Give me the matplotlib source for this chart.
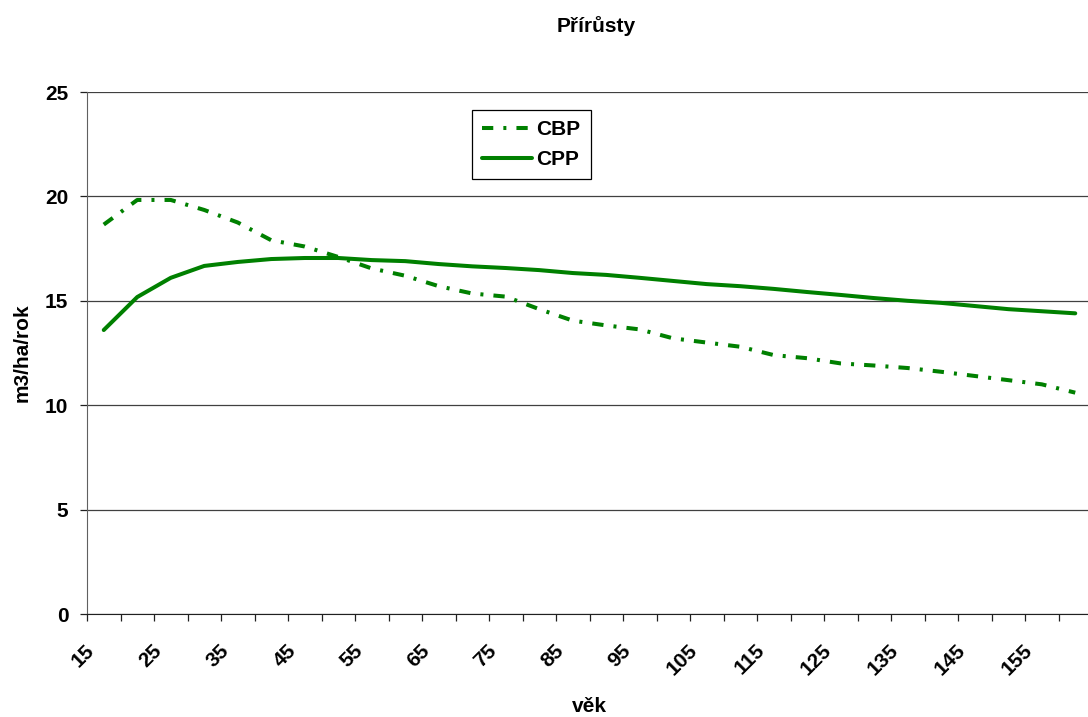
import matplotlib.pyplot as plt
import numpy as np
from matplotlib.transforms import ScaledTranslation

plt.rcParams['font.family'] = ['Liberation Sans', 'DejaVu Sans']
plt.rcParams['font.weight'] = 'bold'

# Přírůsty podle věku porostu
vek = list(range(15, 165, 5))
cbp = [18.65, 19.83, 19.83, 19.35, 18.75, 17.9, 17.6, 17.1, 16.55, 16.2,
       15.7, 15.35, 15.2, 14.6, 14.05, 13.82, 13.63, 13.2, 13.0, 12.8,
       12.4, 12.25, 12.0, 11.9, 11.78, 11.6, 11.4, 11.2, 11.0, 10.6]
cpp = [13.6, 15.18, 16.1, 16.67, 16.86, 17.0, 17.05, 17.05, 16.95, 16.9,
       16.76, 16.65, 16.57, 16.47, 16.33, 16.24, 16.1, 15.95, 15.8, 15.7,
       15.57, 15.42, 15.28, 15.13, 15.0, 14.9, 14.75, 14.6, 14.5, 14.4]

W, H = 1088, 717
fs = 15
fig = plt.figure(figsize=(W / 100, H / 100), dpi=100)
ax = fig.add_axes([87 / W, 1 - 614 / H, 1005 / W, 522 / H])

x = np.arange(len(vek))
zelena = '#008000'
ax.plot(x, cbp, color=zelena, lw=2.9, linestyle=(0, (2.8, 2.5, 0.75, 2.5)), label='CBP')
ax.plot(x, cpp, color=zelena, lw=2.9, solid_capstyle='round', label='CPP')

ax.set_xlim(-0.5, len(vek) - 0.5)
ax.set_ylim(0, 25)
ax.set_yticks(range(0, 26, 5))
ax.grid(axis='y', color='#404040', lw=0.9)
ax.set_axisbelow(True)

for s in ['top', 'right']:
    ax.spines[s].set_visible(False)
ax.spines['left'].set_color('#606060')
ax.spines['bottom'].set_color('#202020')

# tick marks na hranicích kategorií, popisky u každé druhé kategorie
ax.set_xticks(np.arange(-0.5, len(vek), 1.0))
ax.set_xticklabels([])
ax.set_xticks(x[::2], minor=True)
ax.set_xticklabels([str(v) for v in vek[::2]], minor=True, rotation=45,
                   ha='right', va='center', rotation_mode='anchor', fontsize=fs)
ax.tick_params(axis='x', which='major', direction='out', length=5, width=0.9, color='#202020')
ax.tick_params(axis='x', which='minor', length=0, pad=24)
ax.tick_params(axis='y', direction='out', length=5, width=0.9, pad=8.5,
               labelsize=fs, color='#202020')
posun = ScaledTranslation(-0.12, 0, fig.dpi_scale_trans)
for lab in ax.get_xticklabels(minor=True):
    lab.set_transform(lab.get_transform() + posun)

fig.text(596 / W, 1 - 26 / H, 'Přírůsty', ha='center', va='center', fontsize=fs, fontweight='bold')
fig.text(589 / W, 1 - 706 / H, 'věk', ha='center', va='center', fontsize=fs, fontweight='bold')
fig.text(22 / W, 1 - 353 / H, 'm3/ha/rok', ha='center', va='center', rotation=90,
         fontsize=fs, fontweight='bold')

leg = ax.legend(loc='upper left', bbox_to_anchor=(472 / W, 1 - 110 / H),
                bbox_transform=fig.transFigure, fancybox=False, framealpha=1,
                edgecolor='black', borderaxespad=0, handlelength=2.4,
                handletextpad=0.2, borderpad=0.5, labelspacing=0.5,
                prop={'size': fs, 'weight': 'bold'})
leg.get_frame().set_linewidth(0.9)

fig.savefig('out.png', dpi=100)
